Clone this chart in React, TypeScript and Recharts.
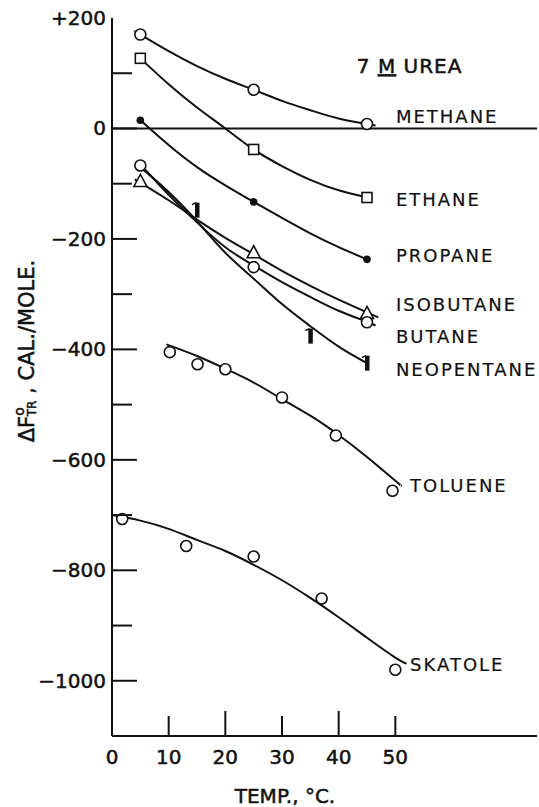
import {
  ComposedChart,
  Line,
  ReferenceDot,
  ReferenceLine,
  Scatter,
  XAxis,
  YAxis,
} from 'recharts'

// axis ticks
const tempTicks = [0, 10, 20, 30, 40, 50]
const topTicks = [10, 20, 30, 40, 50]
const energyTicks = [200, 100, 0, -100, -200, -300, -400, -500, -600, -700, -800, -900, -1000, -1100]

// measured points (temp °C, ΔF cal/mole)
const methaneT = [5, 25, 45]
const methaneF = [170, 70, 8]
const ethaneT = [5, 25, 45]
const ethaneF = [127, -38, -125]
const propaneT = [5, 25, 45]
const propaneF = [15, -133, -237]
const isobutaneT = [5, 25, 45]
const isobutaneF = [-96, -225, -335]
const butaneT = [5, 25, 45]
const butaneF = [-67, -251, -351]
const neopentaneT = [15, 35, 45]
const neopentaneF = [-147, -375, -424]
const tolueneT = [10.2, 15.1, 20, 30, 39.5, 49.5]
const tolueneF = [-405, -427, -436, -487, -556, -656]
const skatoleT = [1.8, 13.1, 25, 37, 50]
const skatoleF = [-707, -756, -775, -851, -980]

// smooth curves as drawn in the figure
const gasCurveT = [5, 10, 15, 20, 25, 30, 35, 40, 45]
const methaneCurveT = [4, 5, 10, 15, 20, 25, 30, 35, 40, 45, 46.5]
const methaneCurveF = [176, 170, 140, 113, 90, 70, 50, 33, 18, 8, 5]
const ethaneCurveF = [127, 80, 38, 0, -38, -68, -93, -112, -125]
const propaneCurveF = [15, -30, -70, -103, -133, -162, -190, -215, -237]
const isobutaneCurveT = [4, 10, 15, 20, 25, 30, 35, 40, 45, 47]
const isobutaneCurveF = [-92, -130, -165, -198, -228, -258, -285, -310, -333, -342]
const butaneCurveT = [5, 10, 15, 20, 25, 30, 35, 40, 45, 46.5]
const butaneCurveF = [-65, -120, -170, -215, -248, -278, -305, -330, -350, -357]
const neopentaneCurveF = [-70, -115, -168, -225, -272, -318, -358, -395, -425]
const tolueneCurveT = [9.6, 15, 20, 25, 30, 35, 40, 45, 50, 51]
const tolueneCurveF = [-391, -412, -435, -460, -490, -520, -555, -595, -638, -647]
const skatoleCurveT = [0, 5, 10, 15, 20, 25, 30, 35, 40, 45, 50, 52]
const skatoleCurveF = [-700, -710, -725, -745, -765, -790, -818, -850, -885, -922, -958, -969]

// compound names placed beside the curve ends
const tagNames = ['METHANE', 'ETHANE', 'PROPANE', 'ISOBUTANE', 'BUTANE', 'NEOPENTANE', 'TOLUENE', 'SKATOLE']
const tagT = [50.1, 50.1, 50.1, 50.1, 50.1, 50.1, 52.6, 52.6]
const tagF = [10, -140, -242, -330, -388, -448, -658, -982]

const zip = (t: number[], f: number[]) => t.map((x, i) => ({ x, y: f[i] }))

const ink = '#111'
const font = '"DejaVu Sans", sans-serif'
// a little stroke on the lettering to get the heavier pen look
const pen = { fontFamily: font, fill: ink, stroke: ink, strokeWidth: 0.5 }

function OpenCircle({ cx, cy }: any) {
  return <circle cx={cx} cy={cy} r={5.5} fill="#fff" stroke={ink} strokeWidth={1.6} />
}

function OpenSquare({ cx, cy }: any) {
  return <rect x={cx - 5} y={cy - 5} width={10} height={10} fill="#fff" stroke={ink} strokeWidth={1.6} />
}

function Dot({ cx, cy }: any) {
  return <circle cx={cx} cy={cy} r={3.8} fill={ink} />
}

function Triangle({ cx, cy }: any) {
  return (
    <path
      d={`M${cx},${cy - 7} L${cx + 6.5},${cy + 5} L${cx - 6.5},${cy + 5} Z`}
      fill="#fff"
      stroke={ink}
      strokeWidth={1.6}
    />
  )
}

function Flag({ cx, cy }: any) {
  return (
    <g>
      <rect x={cx - 2} y={cy - 7} width={4.5} height={15} fill={ink} />
      <line x1={cx - 5} y1={cy - 5} x2={cx - 1} y2={cy - 7} stroke={ink} strokeWidth={1.5} />
    </g>
  )
}

function fmt(v: number) {
  if (v > 0) return '+' + v
  if (v < 0) return '\u2212' + Math.abs(v)
  return '0'
}

function BottomTick({ x, y, payload }: any) {
  const v = payload.value
  const len = v % 20 === 0 ? 25 : 20
  return (
    <g>
      {v !== 0 && <line x1={x} x2={x} y1={y} y2={y - len} stroke={ink} strokeWidth={2} />}
      <text x={x} y={y + 28} textAnchor="middle" fontSize={20} {...pen}>
        {v}
      </text>
    </g>
  )
}

function TopTick({ x, y, payload }: any) {
  const len = payload.value % 20 === 0 ? 25 : 19
  return <line x1={x} x2={x} y1={y} y2={y + len} stroke={ink} strokeWidth={2} />
}

function LeftTick({ x, y, payload }: any) {
  const v = payload.value
  const major = v % 200 === 0
  const edge = v === 200 || v === -1100
  return (
    <g>
      {!edge && <line x1={x} x2={x + (major ? 25 : 20)} y1={y} y2={y} stroke={ink} strokeWidth={2} />}
      {major && (
        <text x={x - 6} y={y + 7} textAnchor="end" fontSize={20} {...pen}>
          {fmt(v)}
        </text>
      )}
    </g>
  )
}

function RightTick({ x, y, payload }: any) {
  const v = payload.value
  if (v === 200 || v === -1100 || v === 0) return <g />
  return <line x1={x} x2={x - 19} y1={y} y2={y} stroke={ink} strokeWidth={2} />
}

function TempTitle({ viewBox }: any) {
  return (
    <text x={viewBox.x + 173} y={viewBox.y + 67} textAnchor="middle" fontSize={20} {...pen}>
      TEMP., °C.
    </text>
  )
}

function EnergyTitle({ viewBox }: any) {
  const cx = viewBox.x + 27
  const cy = viewBox.y + 333
  return (
    <text
      x={cx}
      y={cy}
      transform={`rotate(-90, ${cx}, ${cy})`}
      textAnchor="middle"
      dominantBaseline="central"
      fontSize={21}
      {...pen}
    >
      ΔF
      <tspan fontSize={14} dy={-8}>o</tspan>
      <tspan fontSize={12} dx={-9} dy={13}>TR</tspan>
      <tspan dy={-5}> , CAL./MOLE.</tspan>
    </text>
  )
}

function Tag({ cx, cy, text }: any) {
  return (
    <text x={cx} y={cy} fontSize={18} letterSpacing={2} fontFamily={font} fill={ink} stroke={ink} strokeWidth={0.2}>
      {text}
    </text>
  )
}

function UreaTag({ cx, cy }: any) {
  return (
    <text x={cx} y={cy} fontSize={20} letterSpacing={1} {...pen}>
      7 <tspan textDecoration="underline">M</tspan> UREA
    </text>
  )
}

const curves = [
  zip(methaneCurveT, methaneCurveF),
  zip(gasCurveT, ethaneCurveF),
  zip(gasCurveT, propaneCurveF),
  zip(isobutaneCurveT, isobutaneCurveF),
  zip(butaneCurveT, butaneCurveF),
  zip(gasCurveT, neopentaneCurveF),
  zip(tolueneCurveT, tolueneCurveF),
  zip(skatoleCurveT, skatoleCurveF),
]

const markers = [
  { data: zip(methaneT, methaneF), shape: OpenCircle },
  { data: zip(ethaneT, ethaneF), shape: OpenSquare },
  { data: zip(propaneT, propaneF), shape: Dot },
  { data: zip(isobutaneT, isobutaneF), shape: Triangle },
  { data: zip(butaneT, butaneF), shape: OpenCircle },
  { data: zip(neopentaneT, neopentaneF), shape: Flag },
  { data: zip(tolueneT, tolueneF), shape: OpenCircle },
  { data: zip(skatoleT, skatoleF), shape: OpenCircle },
]

export default function App() {
  return (
    <div style={{ position: 'absolute', left: 0, top: 0, background: '#fff' }}>
      <ComposedChart width={539} height={807} margin={{ top: 18, right: 2, bottom: 0, left: 0 }}>
        <XAxis
          type="number"
          dataKey="x"
          domain={[0, 75]}
          ticks={tempTicks}
          interval={0}
          height={71}
          allowDataOverflow
          axisLine={{ stroke: ink, strokeWidth: 2 }}
          tickLine={false}
          tickSize={0}
          tickMargin={0}
          tick={<BottomTick />}
          label={<TempTitle />}
        />
        <XAxis
          xAxisId="top"
          orientation="top"
          type="number"
          dataKey="x"
          domain={[0, 75]}
          ticks={topTicks}
          interval={0}
          height={0}
          axisLine={{ stroke: ink, strokeWidth: 2 }}
          tickLine={false}
          tickSize={0}
          tickMargin={0}
          tick={<TopTick />}
        />
        <YAxis
          type="number"
          domain={[-1100, 200]}
          ticks={energyTicks}
          interval={0}
          width={112}
          allowDataOverflow
          axisLine={{ stroke: ink, strokeWidth: 2 }}
          tickLine={false}
          tickSize={0}
          tickMargin={0}
          tick={<LeftTick />}
          label={<EnergyTitle />}
        />
        <YAxis
          yAxisId="right"
          orientation="right"
          type="number"
          domain={[-1100, 200]}
          ticks={energyTicks}
          interval={0}
          width={0}
          axisLine={{ stroke: ink, strokeWidth: 1.5 }}
          tickLine={false}
          tickSize={0}
          tickMargin={0}
          tick={<RightTick />}
        />
        <ReferenceLine y={0} stroke={ink} strokeWidth={2} />
        {curves.map((c, i) => (
          <Line
            key={'c' + i}
            data={c}
            dataKey="y"
            type="natural"
            stroke={ink}
            strokeWidth={2}
            dot={false}
            activeDot={false}
            isAnimationActive={false}
          />
        ))}
        {markers.map((m, i) => {
          const S = m.shape
          return (
            <Scatter
              key={'m' + i}
              data={m.data}
              dataKey="y"
              shape={(p: any) => <S cx={p.cx} cy={p.cy} />}
              isAnimationActive={false}
            />
          )
        })}
        {tagNames.map((name, i) => (
          <ReferenceDot
            key={name}
            x={tagT[i]}
            y={tagF[i]}
            r={0}
            shape={(p: any) => <Tag cx={p.cx} cy={p.cy} text={name} />}
          />
        ))}
        <ReferenceDot x={43.2} y={100} r={0} shape={(p: any) => <UreaTag cx={p.cx} cy={p.cy} />} />
      </ComposedChart>
    </div>
  )
}
